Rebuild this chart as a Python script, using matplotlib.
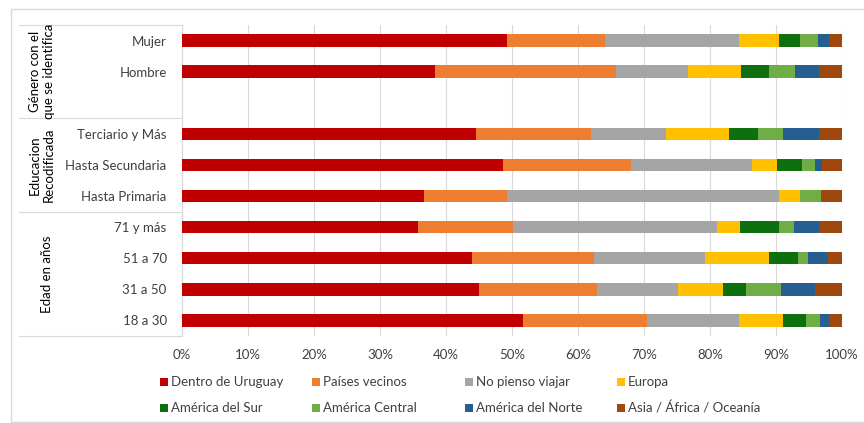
import matplotlib
matplotlib.use("Agg")
import matplotlib.pyplot as plt
from matplotlib.patches import Rectangle
from matplotlib.transforms import blended_transform_factory
import numpy as np

plt.rcParams['font.family'] = ['Lato', 'DejaVu Sans']

# Rows from top to bottom (None = empty spacer slot)
categories = ["Mujer", "Hombre", None, "Terciario y Más", "Hasta Secundaria",
              "Hasta Primaria", "71 y más", "51 a 70", "31 a 50", "18 a 30"]

series_names = ["Dentro de Uruguay", "Países vecinos", "No pienso viajar", "Europa",
                "América del Sur", "América Central", "América del Norte",
                "Asia / África / Oceanía"]

# Percentages per series, one value per row (spacer row = 0)
dentro_uruguay = [49.2, 38.4, 0, 44.5, 48.7, 36.6, 35.8, 43.9, 45.0, 51.7]
paises_vecinos = [14.9, 27.3, 0, 17.5, 19.4, 12.7, 14.3, 18.5, 17.9, 18.7]
no_pienso      = [20.3, 11.0, 0, 11.3, 18.2, 41.2, 30.9, 16.9, 12.2, 14.0]
europa         = [6.0, 8.0, 0, 9.6, 3.8, 3.2, 3.5, 9.6, 6.9, 6.7]
america_sur    = [3.3, 4.2, 0, 4.4, 3.8, 0.0, 6.0, 4.5, 3.5, 3.4]
america_central = [2.6, 4.0, 0, 3.8, 2.0, 3.1, 2.3, 1.4, 5.2, 2.1]
america_norte  = [1.8, 3.6, 0, 5.4, 1.0, 0.0, 3.7, 3.1, 5.2, 1.4]
asia_africa_oceania = [1.9, 3.5, 0, 3.5, 3.1, 3.2, 3.5, 2.1, 4.1, 2.0]

series_values = [dentro_uruguay, paises_vecinos, no_pienso, europa, america_sur,
                 america_central, america_norte, asia_africa_oceania]
colors = ["#C00000", "#ED7D31", "#A5A5A5", "#FFC000", "#0E6F0E",
          "#70AD47", "#255E91", "#9E480E"]

# Group labels spanning row ranges (start, end in slot units)
groups = [("Género con el\nque se identifica", -0.5, 2.5, 42),
          ("Educacion\nRecodificada", 2.5, 5.5, 42),
          ("Edad en años", 5.5, 9.5, 47)]

W, H = 864, 423
fig = plt.figure(figsize=(W / 100, H / 100), dpi=100)

# Light outer frame of the chart area
fig.patches.append(Rectangle((11 / W, 1 - 422 / H), (W + 20) / W, (422 - 9) / H,
                             transform=fig.transFigure, fill=False,
                             edgecolor="#D9D9D9", linewidth=1.0))

left, right, top, bottom = 182, 842, 25, 336
ax = fig.add_axes([left / W, 1 - bottom / H, (right - left) / W, (bottom - top) / H])

y = np.arange(len(categories))
cum = np.zeros(len(categories))
for name, vals, col in zip(series_names, series_values, colors):
    vals = np.array(vals, dtype=float)
    ax.barh(y, vals, left=cum, height=0.4, color=col, label=name, zorder=3)
    cum += vals

ax.set_xlim(0, 100)
ax.set_ylim(9.5, -0.5)
ax.set_xticks(np.arange(0, 101, 10))
ax.set_xticklabels([f"{v}%" for v in range(0, 101, 10)], fontsize=9.5, color="#404040")
ax.set_yticks(y)
ax.set_yticklabels([c if c else "" for c in categories], fontsize=9.5, color="#404040")
ax.tick_params(axis="both", length=0)
ax.tick_params(axis="y", pad=11)
ax.tick_params(axis="x", pad=9)
ax.grid(axis="x", color="#D9D9D9", linewidth=0.8, zorder=0)
for s in ["top", "right", "bottom"]:
    ax.spines[s].set_visible(False)
ax.spines["left"].set_color("#D9D9D9")
ax.spines["left"].set_linewidth(0.8)

# Multi-level category table on the left
tr = blended_transform_factory(fig.transFigure, ax.transData)
for yy in [-0.5, 2.5, 5.5, 9.5]:
    ax.plot([19 / W, left / W], [yy, yy], transform=tr, color="#D9D9D9",
            linewidth=0.8, clip_on=False)
for label, y0, y1, xp in groups:
    ax.text(xp / W, (y0 + y1) / 2, label, transform=tr, rotation=90,
            ha="center", va="center", fontsize=9.5, color="#000000",
            multialignment="center", linespacing=1.15)

# Legend laid out in fixed-width columns, filled row by row
legend_cols_px = [160, 312, 465, 617]
legend_rows_px = [382, 408]
sq = 8
for i, (name, col) in enumerate(zip(series_names, colors)):
    xpx = legend_cols_px[i % 4]
    ypx = legend_rows_px[i // 4]
    fig.patches.append(Rectangle((xpx / W, 1 - (ypx + sq / 2) / H), sq / W, sq / H,
                                 transform=fig.transFigure, facecolor=col,
                                 edgecolor="none"))
    fig.text((xpx + sq + 3) / W, 1 - ypx / H, name, ha="left", va="center",
             fontsize=9.5, color="#404040")

fig.savefig("out.png", dpi=100)
